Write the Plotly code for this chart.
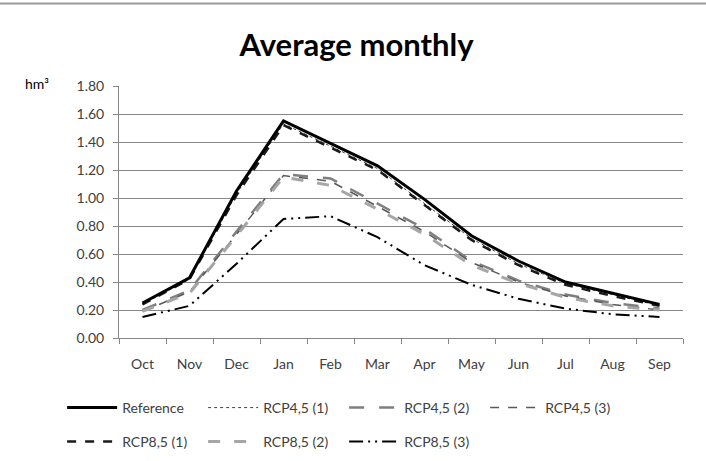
import plotly.graph_objects as go

months = ["Oct", "Nov", "Dec", "Jan", "Feb", "Mar", "Apr", "May", "Jun", "Jul", "Aug", "Sep"]

reference = [0.25, 0.43, 1.05, 1.55, 1.39, 1.23, 0.99, 0.73, 0.55, 0.40, 0.32, 0.24]
rcp45_1 = [0.24, 0.42, 1.03, 1.53, 1.37, 1.21, 0.96, 0.71, 0.53, 0.39, 0.31, 0.23]
rcp45_2 = [0.20, 0.34, 0.76, 1.17, 1.14, 0.96, 0.78, 0.55, 0.41, 0.31, 0.25, 0.21]
rcp45_3 = [0.19, 0.33, 0.74, 1.16, 1.12, 0.94, 0.76, 0.54, 0.40, 0.30, 0.24, 0.20]
rcp85_1 = [0.24, 0.42, 1.02, 1.52, 1.36, 1.20, 0.95, 0.70, 0.52, 0.38, 0.30, 0.23]
rcp85_2 = [0.19, 0.32, 0.73, 1.15, 1.09, 0.92, 0.74, 0.52, 0.39, 0.29, 0.23, 0.20]
rcp85_3 = [0.15, 0.23, 0.53, 0.85, 0.87, 0.72, 0.52, 0.38, 0.28, 0.21, 0.17, 0.15]

yticks = [0.0, 0.2, 0.4, 0.6, 0.8, 1.0, 1.2, 1.4, 1.6, 1.8]

FONT = "Lato"

series = [
    ("Reference", reference, dict(color="#000000", width=3, dash="solid"), "legend"),
    ("RCP4,5 (1)", rcp45_1, dict(color="#404040", width=1, dash="dot"), "legend"),
    ("RCP4,5 (2)", rcp45_2, dict(color="#7f7f7f", width=2.5, dash="longdash"), "legend"),
    ("RCP4,5 (3)", rcp45_3, dict(color="#595959", width=1.5, dash="dash"), "legend"),
    ("RCP8,5 (1)", rcp85_1, dict(color="#1a1a1a", width=2.5, dash="dash"), "legend2"),
    ("RCP8,5 (2)", rcp85_2, dict(color="#a6a6a6", width=3, dash="12px,14px"), "legend2"),
    ("RCP8,5 (3)", rcp85_3, dict(color="#000000", width=2, dash="14px,5px,2px,5px,2px,5px"), "legend2"),
]

names = [s[0] for s in series]
fig = go.Figure()
# draw the reference last so it stays on top; legend order kept by legendrank
for name, vals, line, leg in series[1:] + series[:1]:
    fig.add_trace(go.Scatter(
        x=months, y=vals, mode="lines", name=name, line=line,
        legend=leg, legendrank=names.index(name) + 1,
    ))

legend_common = dict(
    orientation="h",
    xref="container",
    yref="container",
    x=0.088,
    xanchor="left",
    yanchor="top",
    itemwidth=50,
    entrywidth=76,
    entrywidthmode="pixels",
    font=dict(family=FONT, size=14, color="#404040"),
    traceorder="normal",
    bgcolor="rgba(0,0,0,0)",
)

fig.update_layout(
    width=706,
    height=461,
    margin=dict(l=119, r=23, t=86, b=123),
    paper_bgcolor="white",
    plot_bgcolor="white",
    font=dict(family=FONT, size=14, color="#404040"),
    title=dict(
        text="<b>Average monthly</b>",
        x=0.505,
        xanchor="center",
        y=0.902,
        yanchor="middle",
        font=dict(family=FONT, size=31, color="#000000"),
    ),
    xaxis=dict(
        type="category",
        showgrid=False,
        showline=True,
        linecolor="#868686",
        linewidth=1,
        ticks="outside",
        tickson="boundaries",
        ticklen=5,
        tickcolor="#868686",
        ticklabelstandoff=13,
        tickfont=dict(family=FONT, size=14, color="#404040"),
        range=[-0.5, 11.5],
    ),
    yaxis=dict(
        range=[0, 1.8],
        tickvals=yticks,
        ticktext=[f"{v:.2f}" for v in yticks],
        showgrid=True,
        gridcolor="#868686",
        gridwidth=1,
        showline=True,
        linecolor="#868686",
        ticks="outside",
        ticklen=5,
        tickcolor="#868686",
        ticklabelstandoff=6,
        tickfont=dict(family=FONT, size=14, color="#404040"),
        zeroline=False,
    ),
    legend=dict(legend_common, y=0.1497),
    legend2=dict(legend_common, y=0.0759),
    showlegend=True,
)

fig.add_annotation(
    text="hm³",
    xref="paper", yref="paper",
    x=-0.17, y=1.01,
    xanchor="left", yanchor="middle",
    showarrow=False,
    font=dict(family=FONT, size=14, color="#000000"),
)

fig.add_shape(
    type="line", xref="paper", yref="paper",
    x0=-0.25, x1=1.1, y0=1.0 + 82.5 / 252, y1=1.0 + 82.5 / 252,
    line=dict(color="#9a9a9a", width=2),
)

fig.write_html("out.html")
